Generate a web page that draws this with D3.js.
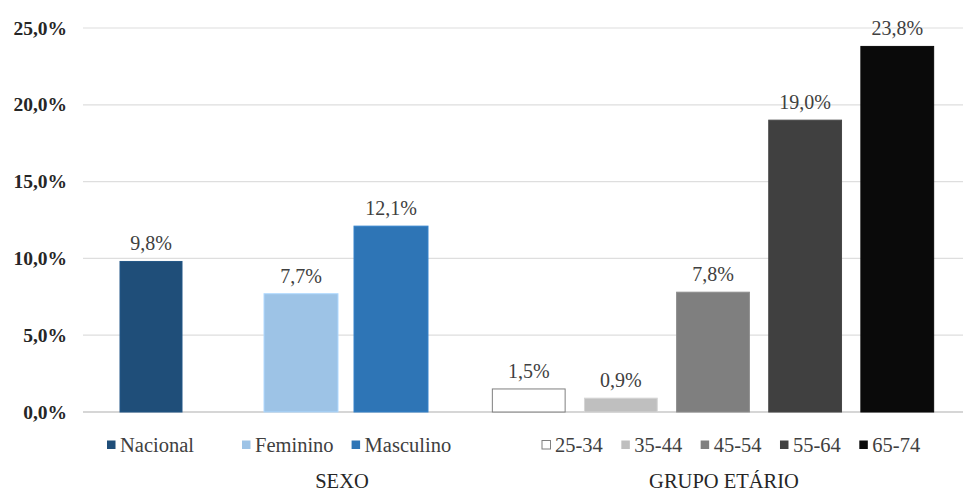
<!DOCTYPE html>
<html>
<head>
<meta charset="utf-8">
<script src="https://cdn.jsdelivr.net/npm/d3@7"></script>
<style>
  html, body { margin: 0; padding: 0; background: #fff; }
  svg { display: block; }
</style>
</head>
<body>
<svg id="chart" width="963" height="491" font-family="'Liberation Serif', 'Times New Roman', Tinos, 'DejaVu Serif', serif"></svg>
<script>
// Prevalence by group (%)
const nationalCategories = ["Nacional"];
const nationalValues = [9.8];

const sexCategories = ["Feminino", "Masculino"];
const sexValues = [7.7, 12.1];

const ageCategories = ["25-34", "35-44", "45-54", "55-64", "65-74"];
const ageValues = [1.5, 0.9, 7.8, 19.0, 23.8];

const yTicks = [0, 5, 10, 15, 20, 25];
const groupTitles = ["SEXO", "GRUPO ETÁRIO"];

const nationalColors = ["#1f4e79"];
const sexColors = ["#9dc3e6", "#2e75b6"];
const ageColors = ["#ffffff", "#bfbfbf", "#7f7f7f", "#404040", "#0a0a0a"];

const FONT = "'Liberation Serif', 'Times New Roman', Tinos, 'DejaVu Serif', serif";

const svg = d3.select("#chart");
const fmt = v => d3.format(".1f")(v).replace(".", ",") + "%";

const y = d3.scaleLinear().domain([0, 25]).range([412, 28]);

// Gridlines and tick labels
svg.append("g")
  .selectAll("line")
  .data(yTicks)
  .join("line")
  .attr("x1", 83).attr("x2", 963)
  .attr("y1", d => y(d)).attr("y2", d => y(d))
  .attr("stroke", d => d === 0 ? "#c8c8c8" : "#dedede")
  .attr("stroke-width", d => d === 0 ? 1.6 : 1.2);

svg.append("g")
  .selectAll("text")
  .data(yTicks)
  .join("text")
  .attr("x", 67)
  .attr("y", d => y(d) + 6.5)
  .attr("text-anchor", "end")
  .attr("font-family", FONT)
  .attr("font-size", 19.5)
  .attr("font-weight", "bold")
  .attr("fill", "#262626")
  .text(fmt);

// Each group of bars gets its own band scale
const groups = [
  { cats: nationalCategories, vals: nationalValues, colors: nationalColors,
    x: d3.scaleBand().domain(nationalCategories).range([104.5, 197.5]).padding(0.2) },
  { cats: sexCategories, vals: sexValues, colors: sexColors,
    x: d3.scaleBand().domain(sexCategories).range([248, 444]).padding(0.178) },
  { cats: ageCategories, vals: ageValues, colors: ageColors,
    x: d3.scaleBand().domain(ageCategories).range([473, 953]).padding(0.21) }
];

groups.forEach(g => {
  const rows = g.cats.map((c, i) => ({ c, v: g.vals[i], color: g.colors[i] }));
  const gg = svg.append("g");
  gg.selectAll("rect")
    .data(rows)
    .join("rect")
    .attr("x", d => g.x(d.c))
    .attr("width", g.x.bandwidth())
    .attr("y", d => y(d.v))
    .attr("height", d => y(0) - y(d.v))
    .attr("fill", d => d.color)
    .attr("stroke", d => d.color === "#ffffff" ? "#7f7f7f" : d3.color(d.color).brighter(0.3))
    .attr("stroke-width", 1);
  gg.selectAll("text")
    .data(rows)
    .join("text")
    .attr("x", d => g.x(d.c) + g.x.bandwidth() / 2)
    .attr("y", d => y(d.v) - 11)
    .attr("text-anchor", "middle")
    .attr("font-family", FONT)
    .attr("font-size", 20)
    .attr("fill", "#404040")
    .text(d => fmt(d.v));
});

// Legends
function legend(items, colors, startX, gap) {
  const lg = svg.append("g");
  let x = startX;
  items.forEach((name, i) => {
    lg.append("rect")
      .attr("x", x).attr("y", 440.5)
      .attr("width", 8.5).attr("height", 8.5)
      .attr("fill", colors[i])
      .attr("stroke", colors[i] === "#ffffff" ? "#7f7f7f" : "none");
    const t = lg.append("text")
      .attr("x", x + 13).attr("y", 452)
      .attr("font-family", FONT)
      .attr("font-size", 20.5)
      .attr("fill", "#404040")
      .text(name);
    x += 13 + t.node().getComputedTextLength() + gap;
  });
}
legend(nationalCategories, nationalColors, 107, 20);
legend(sexCategories, sexColors, 242, 18);
legend(ageCategories, ageColors, 542, 18.5);

// Group titles
svg.append("g")
  .selectAll("text")
  .data(groupTitles)
  .join("text")
  .attr("x", (d, i) => [342, 724][i])
  .attr("y", 488)
  .attr("text-anchor", "middle")
  .attr("font-family", FONT)
  .attr("font-size", 20.5)
  .attr("fill", "#262626")
  .text(d => d);
</script>
</body>
</html>
